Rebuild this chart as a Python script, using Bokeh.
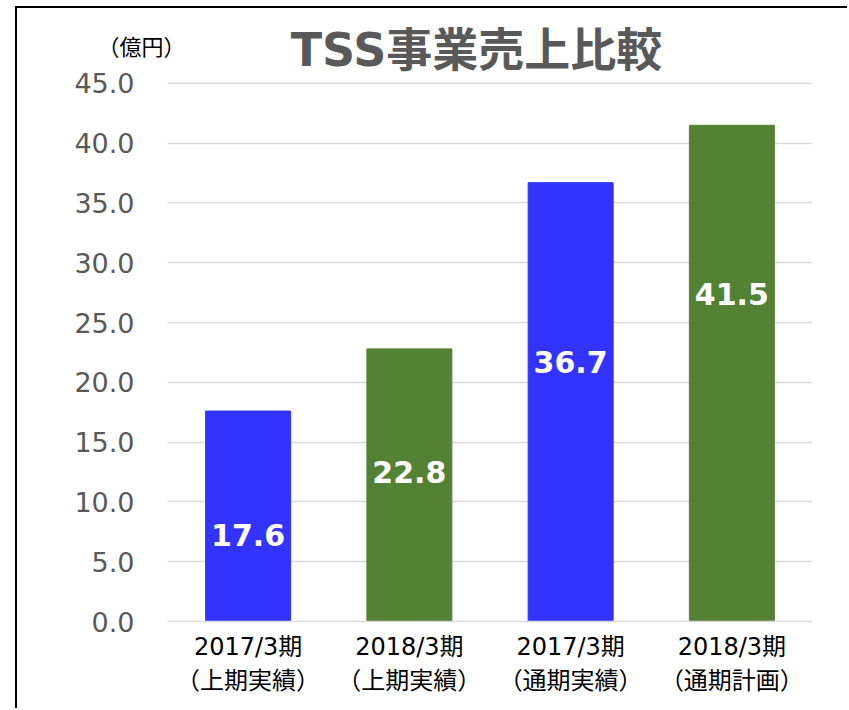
from bokeh.plotting import figure
from bokeh.models import ColumnDataSource, Label, FixedTicker, PrintfTickFormatter, Range1d
from bokeh.core.properties import value
from bokeh.embed import file_html
from bokeh.resources import INLINE

# ---- data ----
categories = ["2017/3期\n（上期実績）", "2018/3期\n（上期実績）", "2017/3期\n（通期実績）", "2018/3期\n（通期計画）"]
sales = [17.6, 22.8, 36.7, 41.5]
label_pos = [7.2, 12.5, 21.7, 27.4]
bar_colors = ["#3333FF", "#548235", "#3333FF", "#548235"]
y_ticks = [0, 5, 10, 15, 20, 25, 30, 35, 40, 45]
title_text = "TSS事業売上比較"
unit_text = "（億円）"

FONT = "DejaVu Sans, Noto Sans CJK JP"

xpos = [i + 0.5 for i in range(len(categories))]
source = ColumnDataSource(dict(
    x=xpos, val=sales, lab=["%.1f" % v for v in sales],
    pos=label_pos, color=bar_colors,
))

p = figure(width=832, height=702,
           x_range=Range1d(-0.4155, len(categories)), y_range=Range1d(0, 50.43),
           output_backend="svg", toolbar_location=None,
           min_border_left=83, min_border_right=37, min_border_top=10, min_border_bottom=89)
p.styles = {"margin-left": "15px", "margin-top": "6px",
            "border-left": "2px solid #000000", "border-top": "2px solid #000000"}

p.vbar(x="x", top="val", width=0.527, color="color", source=source)
p.text(x="x", y="pos", text="lab", source=source, text_color="white",
       text_font=value(FONT), text_font_size="30px", text_font_style="bold",
       text_align="center", text_baseline="middle")

p.outline_line_color = None
p.background_fill_color = "white"
p.border_fill_color = "white"

p.xgrid.grid_line_color = None
p.ygrid.grid_line_color = "#D9D9D9"
p.ygrid.grid_line_width = 1.5
p.ygrid.ticker = FixedTicker(ticks=y_ticks)
p.ygrid.cross_bounds = (0, len(categories))

p.yaxis.ticker = FixedTicker(ticks=y_ticks)
p.yaxis.formatter = PrintfTickFormatter(format="%.1f")
p.yaxis.axis_line_color = None
p.yaxis.major_tick_line_color = None
p.yaxis.minor_tick_line_color = None
p.yaxis.major_label_text_font = FONT
p.yaxis.major_label_text_font_size = "27px"
p.yaxis.major_label_text_color = "#595959"
p.yaxis.major_label_standoff = -40

p.xaxis.ticker = FixedTicker(ticks=xpos)
p.xaxis.major_label_overrides = {x: c for x, c in zip(xpos, categories)}
p.xaxis.bounds = (0, len(categories))
p.xaxis.axis_line_color = "#D9D9D9"
p.xaxis.axis_line_width = 1.5
p.xaxis.major_tick_line_color = None
p.xaxis.minor_tick_line_color = None
p.xaxis.major_label_text_font = FONT
p.xaxis.major_label_text_font_size = "24px"
p.xaxis.major_label_text_line_height = 1.22
p.xaxis.major_label_text_color = "#000000"
p.xaxis.major_label_standoff = 5

p.add_layout(Label(x=376, y=572, x_units="screen", y_units="screen", text=title_text,
                   text_font=FONT, text_font_size="46px", text_font_style="bold",
                   text_color="#595959", text_align="center", text_baseline="middle"))
p.add_layout(Label(x=41, y=574, x_units="screen", y_units="screen", text=unit_text,
                   text_font=FONT, text_font_size="22px", text_color="#000000",
                   text_align="center", text_baseline="middle"))

open("out.html", "w").write(file_html(p, INLINE))
